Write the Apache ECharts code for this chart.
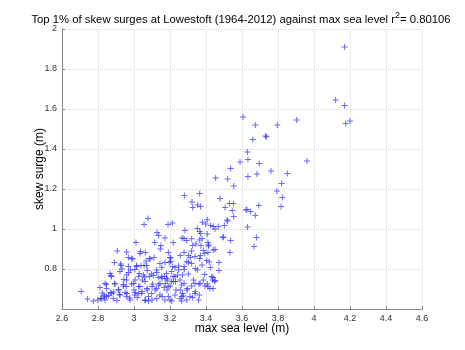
<!DOCTYPE html>
<html>
<head>
<meta charset="utf-8">
<script src="https://cdn.jsdelivr.net/npm/echarts@6/dist/echarts.min.js"></script>
<style>
	html, body { margin: 0; padding: 0; background: #fff; }
	#chart { width: 465px; height: 350px; }
</style>
</head>
<body>
<div id="chart"></div>
<script>
// [max sea level (m), skew surge (m)]
const upperPoints = [
	[4.17,1.91],[4.12,1.645],[4.17,1.617],[4.176,1.527],[4.2,1.54],
	[3.606,1.56],[3.674,1.52],[3.796,1.52],[3.904,1.545],[3.73,1.465],[3.736,1.461],[3.66,1.448],
	[3.63,1.385],[3.589,1.335],[3.633,1.348],[3.696,1.328],[3.961,1.34],[3.537,1.303],[3.761,1.29],[3.852,1.277],
	[3.454,1.255],[3.52,1.25],[3.633,1.263],[3.683,1.275],[3.554,1.215],[3.82,1.228],[3.794,1.19],[3.824,1.158],[3.817,1.113],
	[3.28,1.167],[3.365,1.177],[3.322,1.135],[3.326,1.108],[3.354,1.12],[3.37,1.113],
	[3.478,1.152],[3.53,1.128],[3.552,1.128],[3.506,1.107],[3.546,1.093],[3.554,1.062],
	[3.693,1.118],[3.622,1.095],[3.627,1.098],[3.648,1.087],[3.674,1.067],
	[3.52,1.04],[3.407,1.046],[3.38,1.034],[3.426,1.018],[3.468,1.013],[3.502,1.017],[3.45,1.0],[3.352,1.002],
	[3.631,1.01],[3.398,1.025],[3.44,1.012],[3.517,1.045],
	[3.078,1.053],[3.056,1.022],[3.189,1.022],[3.213,1.03],[3.283,0.992]
];
const middlePoints = [
	[3.37,0.978],[3.365,0.987],[3.407,0.975],[3.378,0.953],[3.365,0.945],[3.267,0.955],[3.68,0.958],[3.667,0.913],
	[3.496,0.96],[3.537,0.943],[3.533,0.883],[3.45,0.898],[3.411,0.932],[3.415,0.92],[3.494,0.957],
	[3.128,0.982],[3.137,0.968],[3.011,0.932],[3.115,0.933],[3.172,0.955],[3.218,0.933],[3.278,0.952],[3.32,0.951],
	[3.326,0.918],[3.15,0.917],[3.146,0.9],[3.293,0.943],[3.344,0.925],[3.372,0.918],
	[3.037,0.887],[3.033,0.877],[2.959,0.885],[2.907,0.89],[3.063,0.883],[3.191,0.882],[3.278,0.882],[3.302,0.868],
	[3.385,0.892],[3.413,0.915],[3.44,0.895],[3.393,0.878],[3.411,0.882],[3.32,0.89],[3.369,0.868],[3.257,0.868],
	[3.313,0.858],[3.365,0.853],
	[2.969,0.857],[2.987,0.852],[3.085,0.852],[3.111,0.858],[3.2,0.858],[3.204,0.855],[2.993,0.85],[3.089,0.85],[3.339,0.862]
];
const densePoints = [
	[2.891,0.832],[2.926,0.825],[2.969,0.813],[3.015,0.813],[3.039,0.817],[3.067,0.84],[3.204,0.838],[3.228,0.808],
	[3.248,0.815],[3.144,0.828],[3.172,0.832],[3.293,0.837],[3.32,0.828],[3.404,0.842],[3.278,0.812],[3.418,0.835],
	[3.472,0.832],[3.378,0.82],[3.424,0.808],[3.472,0.792],[3.196,0.833],[3.215,0.813],[3.302,0.832],[3.056,0.817],
	[3.07,0.817],[3.015,0.818],
	[2.867,0.778],[2.874,0.762],[2.922,0.787],[2.959,0.77],[2.981,0.795],[3.005,0.798],[3.026,0.762],[3.052,0.77],
	[3.074,0.792],[3.098,0.775],[3.126,0.795],[3.154,0.808],[3.154,0.762],[3.181,0.778],[3.209,0.787],[3.228,0.762],
	[3.241,0.77],[3.256,0.745],[3.302,0.775],[3.352,0.795],[3.33,0.745],[3.385,0.745],[3.432,0.762],[3.45,0.742],
	[3.393,0.773],[3.439,0.758],[3.279,0.797],[3.27,0.77],[3.029,0.778],[3.126,0.782],[3.248,0.795],[3.341,0.803],
	[2.928,0.817],[2.933,0.8],[2.872,0.768],[2.97,0.783],
	[3.006,0.745],[3.046,0.745],[3.059,0.76],[3.085,0.762],[3.107,0.768],[3.135,0.758],[3.156,0.753],[3.169,0.762],
	[3.181,0.753],[3.218,0.762],[3.209,0.737],[3.231,0.737],[2.944,0.747],[2.959,0.745],
	[2.839,0.728],[2.811,0.708],[2.848,0.703],[2.894,0.725],[2.913,0.695],[2.941,0.715],[2.987,0.725],[3.0,0.695],
	[3.033,0.712],[3.061,0.737],[3.074,0.695],[3.104,0.725],[3.126,0.703],[3.144,0.728],[3.167,0.708],[3.185,0.745],
	[3.2,0.715],[3.219,0.737],[3.233,0.695],[3.265,0.72],[3.27,0.678],[3.296,0.703],[3.32,0.715],[3.339,0.678],
	[3.367,0.728],[3.394,0.715],[3.422,0.703],[3.437,0.745],[3.278,0.728],[3.339,0.728],[3.361,0.725],[3.407,0.725],
	[3.411,0.712],[3.439,0.703],[3.448,0.737],
	[2.846,0.723],[2.893,0.728],[2.941,0.723],[2.957,0.713],[2.998,0.728],[3.026,0.712],[3.072,0.703],[3.1,0.712],
	[3.137,0.72],[3.174,0.728],[3.19,0.712],
	[2.707,0.688],[2.741,0.65],[2.774,0.64],[2.798,0.645],[2.82,0.653],[2.833,0.67],[2.848,0.662],[2.876,0.678],
	[2.885,0.653],[2.922,0.67],[2.95,0.682],[2.959,0.662],[2.978,0.645],[3.005,0.67],[3.018,0.658],[3.043,0.678],
	[3.061,0.642],[3.08,0.662],[3.098,0.678],[3.126,0.653],[3.144,0.67],[3.172,0.645],[3.191,0.662],[3.228,0.67],
	[3.256,0.653],[3.274,0.665],[3.293,0.645],[3.326,0.658],[3.363,0.67],
	[2.824,0.68],[2.835,0.66],[2.839,0.645],[2.859,0.667],[2.87,0.682],[2.887,0.685],[2.915,0.697],[2.92,0.673],
	[2.961,0.678],[2.976,0.655],[2.813,0.653],
	[3.007,0.682],[3.026,0.678],[3.044,0.687],[3.063,0.645],[3.081,0.64],[3.1,0.645],[3.118,0.695],[3.183,0.695],
	[3.156,0.662],[3.257,0.695],[3.294,0.695],[3.341,0.687],[3.359,0.645],[3.2,0.645],[3.265,0.662],[3.311,0.662],
	[2.905,0.643],[3.21,0.64],[3.265,0.64]
];

let myChart = echarts.init(document.getElementById("chart"));

// 十字形标记 (MATLAB '+')
const plusMark = "path://M2.5,0h1v2.5h2.5v1h-2.5v2.5h-1v-2.5h-2.5v-1h2.5z";
const axisFont = "Liberation Sans";

let option = {
	animation: false,
	title: {
		text: "Top 1% of skew surges at Lowestoft (1964-2012) against max sea level r{sup|2}= 0.80106",
		left: 236,
		textAlign: "center",
		top: 6,
		textStyle: {
			fontFamily: axisFont,
			fontSize: 11.3,
			fontWeight: "normal",
			color: "#000",
			rich: {
				sup: { fontSize: 9, verticalAlign: "top", padding: [0, 0, 8, 0], color: "#000", fontFamily: axisFont }
			}
		}
	},
	grid: {
		left: 62,
		right: 43,
		top: 29,
		bottom: 41,
	},
	xAxis: {
		type: "value",
		min: 2.6,
		max: 4.6,
		interval: 0.2,
		name: "max sea level (m)",
		nameLocation: "middle",
		nameGap: 14,
		nameMoveOverlap: false,
		nameTextStyle: { fontFamily: axisFont, fontSize: 12, color: "#000" },
		axisLine: { lineStyle: { color: "#888" } },
		axisTick: { inside: true, length: 3, lineStyle: { color: "#888" } },
		axisLabel: { fontFamily: axisFont, fontSize: 9, color: "#333", margin: 5 },
		splitLine: { show: true, lineStyle: { color: "#d8d8d8", type: "dotted" } },
	},
	yAxis: {
		type: "value",
		min: 0.6,
		max: 2,
		interval: 0.2,
		name: "skew surge (m)",
		nameLocation: "middle",
		nameGap: 16,
		nameMoveOverlap: false,
		nameTextStyle: { fontFamily: axisFont, fontSize: 12, color: "#000" },
		axisLine: { show: true, lineStyle: { color: "#888" } },
		axisTick: { show: true, inside: true, length: 3, lineStyle: { color: "#888" } },
		axisLabel: { fontFamily: axisFont, fontSize: 9, color: "#333", margin: 5, showMinLabel: false },
		splitLine: { show: true, lineStyle: { color: "#d8d8d8", type: "dotted" } },
	},
	series: [
		{
			type: "scatter",
			data: upperPoints.concat(middlePoints, densePoints),
			symbol: plusMark,
			symbolSize: 6,
			itemStyle: { color: "#2a2aff", opacity: 0.7 },
		},
	],
};
myChart.setOption(option);
</script>
</body>
</html>
